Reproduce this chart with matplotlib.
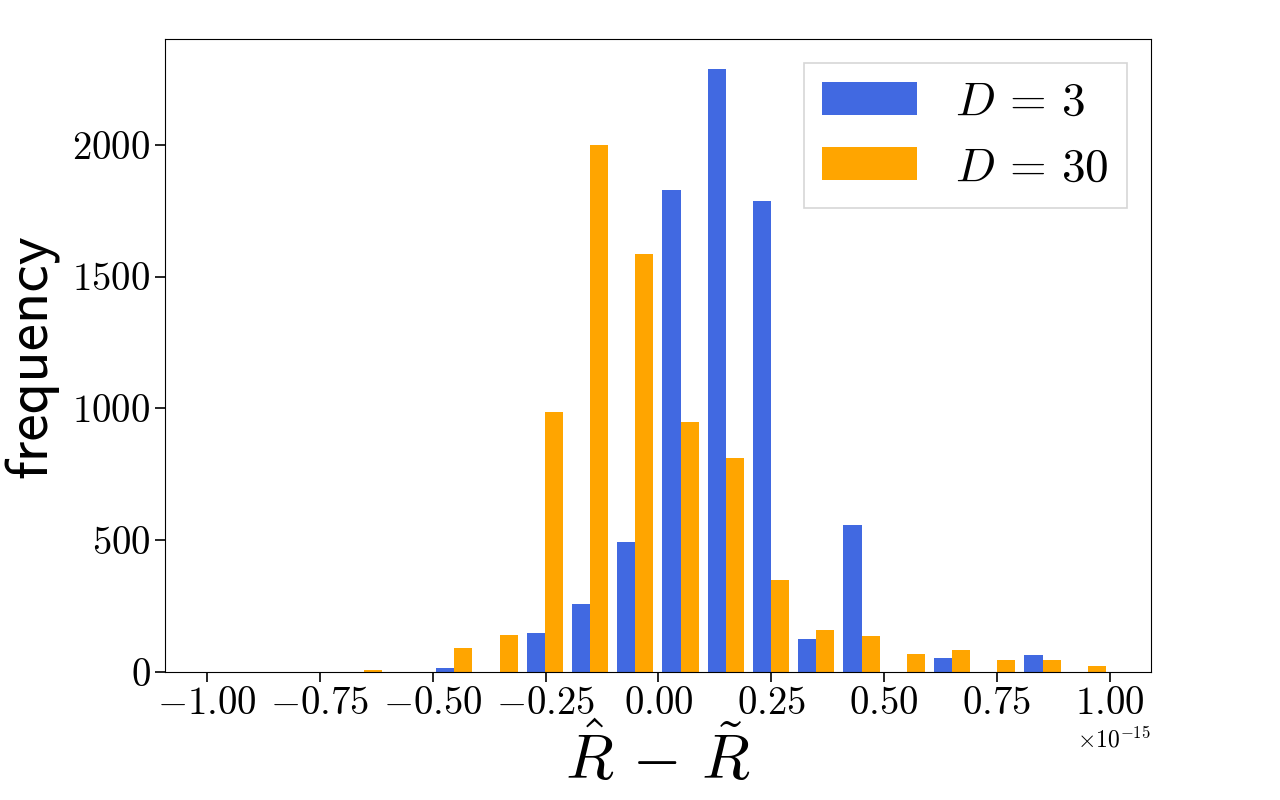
import matplotlib
matplotlib.use("Agg")
import matplotlib.pyplot as plt
import numpy as np
from matplotlib.ticker import ScalarFormatter, FixedLocator

plt.rcParams['font.family'] = 'serif'
plt.rcParams['font.serif'] = ['cmr10', 'DejaVu Serif']
plt.rcParams['mathtext.fontset'] = 'cm'
plt.rcParams['axes.formatter.use_mathtext'] = True
plt.rcParams['axes.unicode_minus'] = True

# histogram counts, 20 bins
bin_edges = np.linspace(-1.004e-15, 1.002e-15, 21)
counts_d3 = [0, 0, 0, 0, 0, 14, 0, 147, 257, 493,
             1830, 2286, 1785, 124, 557, 0, 52, 0, 63, 0]
counts_d30 = [0, 0, 0, 6, 0, 90, 139, 987, 1998, 1587,
              949, 812, 348, 158, 136, 67, 82, 44, 44, 22]
labels = [r'$D\,=\,3$', r'$D\,=\,30$']
colors = ['royalblue', 'orange']
xticks = np.array([-1.0, -0.75, -0.5, -0.25, 0.0, 0.25, 0.5, 0.75, 1.0]) * 1e-15


class TwoDecimals(ScalarFormatter):
    def _set_format(self):
        self.format = r'$\mathdefault{%1.2f}$'


centers = 0.5 * (bin_edges[:-1] + bin_edges[1:])

fig, ax = plt.subplots(figsize=(12.8, 8), dpi=100)
fig.subplots_adjust(left=0.129, right=0.899, top=0.951, bottom=0.16)

ax.hist([centers, centers], bins=bin_edges, weights=[counts_d3, counts_d30],
        color=colors, label=labels)

ax.xaxis.set_major_locator(FixedLocator(xticks))
ax.xaxis.set_major_formatter(TwoDecimals(useMathText=True))

ax.set_xlabel(r'$\hat{R}\,-\,\tilde{R}$', fontsize=45, labelpad=2)
ax.set_ylabel('frequency', fontsize=44, family='cmss10', labelpad=9)
ax.tick_params(labelsize=28, length=7, width=1.2)
ax.xaxis.get_offset_text().set_fontsize(17)

leg = ax.legend(fontsize=34, fancybox=False, edgecolor='0.8', loc='upper right')
leg.get_frame().set_linewidth(1.2)

plt.savefig("out.png")
